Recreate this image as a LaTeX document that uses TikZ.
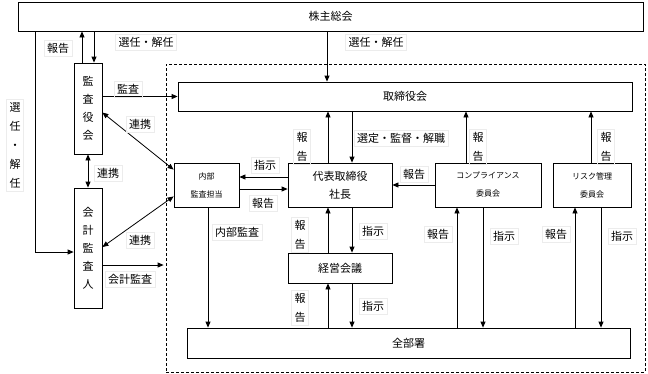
\documentclass[tikz,border=0pt]{standalone}
\usepackage{fontspec}
\setmainfont{Noto Sans CJK JP}
\usetikzlibrary{arrows.meta,calc}
\definecolor{framegray}{RGB}{236,236,236}
\tikzset{
  box/.style={draw=black, line width=0.8pt, inner sep=0pt, align=center,
              font=\fontsize{11}{18}\selectfont},
  sbox/.style={box, font=\fontsize{8}{18}\selectfont},
  lbl/.style={draw=framegray, line width=0.5pt, inner sep=3pt, align=center,
              font=\fontsize{11}{18}\selectfont},
  vlbl/.style={lbl, font=\fontsize{11}{19}\selectfont},
  flow/.style={-{Triangle[length=6pt,width=5pt]}, line width=0.8pt},
  both/.style={{Triangle[length=6pt,width=5pt]}-{Triangle[length=6pt,width=5pt]}, line width=0.8pt},
}

\begin{document}
\begin{tikzpicture}[x=1pt,y=-1pt]
  \useasboundingbox (0,0) rectangle (648,373);

  % boxes
  \node[box, minimum width=625pt, minimum height=29pt] (soukai) at (330.5,16.5) {株主総会};
  \node[box, minimum width=28pt, minimum height=91pt] (kansa) at (88,108.5) {監\\査\\役\\会};
  \node[box, minimum width=28pt, minimum height=120pt] (kaikei) at (88,248) {会\\計\\監\\査\\人};
  \node[draw, dashed, dash pattern=on 3pt off 2pt, line width=0.8pt, inner sep=0pt,
        minimum width=479pt, minimum height=308pt] (group) at (405.5,218) {};
  \node[box, minimum width=454pt, minimum height=29pt] (board) at (405,96.5) {取締役会};
  \node[sbox, minimum width=65pt, minimum height=44pt] (naibu) at (206.5,185) {内部\\監査担当};
  \node[box, minimum width=104pt, minimum height=44pt] (ceo) at (340,185) {代表取締役\\社長};
  \node[box, minimum width=104pt, minimum height=30pt] (keiei) at (340,268) {経営会議};
  \node[sbox, minimum width=106pt, minimum height=44pt] (comp) at (488,185) {コンプライアンス\\委員会};
  \node[sbox, minimum width=78pt, minimum height=44pt] (risk) at (592,185) {リスク管理\\委員会};
  \node[box, minimum width=443pt, minimum height=30pt] (all) at (408.5,343) {全部署};

  % vertical arrows, offset taken from the box named first
  \foreach \src/\dst/\dx in {kansa/soukai/-6, ceo/board/-12, keiei/ceo/-12,
                             comp/board/-22, risk/board/-1}{
    \coordinate (p) at ($(\src.north)+(\dx,0)$);
    \draw[flow] (p) -- (p |- \dst.south);
  }
  \foreach \dst/\src/\dx in {keiei/all/-12, comp/all/-31, risk/all/-17}{
    \coordinate (p) at ($(\dst.south)+(\dx,0)$);
    \draw[flow] (p |- \src.north) -- (p);
  }
  \foreach \src/\dst/\dx in {soukai/kansa/6, soukai/board/-78, board/ceo/12, ceo/keiei/12}{
    \coordinate (p) at ($(\dst.north)+(\dx,0)$);
    \draw[flow] (p |- \src.south) -- (p);
  }
  \foreach \src/\dst/\dx in {keiei/all/12, comp/all/-5, risk/all/9, naibu/all/1.5}{
    \coordinate (p) at ($(\src.south)+(\dx,0)$);
    \draw[flow] (p) -- (p |- \dst.north);
  }

  % horizontal arrows
  \draw[flow] ($(soukai.south west)+(18,0)$) |- ($(kaikei.west)+(0,4)$);
  \draw[flow] (kansa.east |- board.west) -- (board.west);
  \draw[flow] ($(ceo.west)+(0,-8)$) -- ($(naibu.east)+(0,-8)$);
  \draw[flow] ($(naibu.east)+(0,4)$) -- ($(ceo.west)+(0,4)$);
  \draw[flow] (comp.west) -- (ceo.east);
  \coordinate (q) at ($(kaikei.east)+(0,17)$);
  \draw[flow, shorten >=2pt] (q) -- (q -| group.west);

  % links
  \draw[both] (kansa.south) -- (kaikei.north);
  \draw[both] ($(kansa.east)+(0,4)$) -- ($(naibu.north west)+(0,7)$);
  \draw[both] ($(kaikei.east)+(0,-1)$) -- ($(naibu.south west)+(0,-11)$);

  % labels
  \node[lbl] (l1) at (58,48) {報告};
  \node[lbl] (l2) at (146,42) {選任・解任};
  \node[lbl] (l3) at (376,42) {選任・解任};
  \node[vlbl] (l4) at (15,145) {選\\任\\・\\解\\任};
  \node[lbl] (l5) at (128,89) {監査};
  \node[lbl] (l6) at (140,124) {連携};
  \node[lbl] (l7) at (108,173) {連携};
  \node[lbl] (l8) at (140,240) {連携};
  \node[lbl] (l9) at (130,279) {会計監査};
  \node[lbl] (l10) at (265,165) {指示};
  \node[lbl] (l11) at (263,203) {報告};
  \node[lbl] (l12) at (237,232) {内部監査};
  \node[vlbl] (l13) at (302,147) {報\\告};
  \node[lbl] (l14) at (401,138) {選定・監督・解職};
  \node[vlbl] (l15) at (300,235) {報\\告};
  \node[lbl] (l16) at (373,231) {指示};
  \node[vlbl] (l17) at (300,308) {報\\告};
  \node[lbl] (l18) at (373,306) {指示};
  \node[lbl] (l19) at (414,174) {報告};
  \node[vlbl] (l20) at (478,147) {報\\告};
  \node[vlbl] (l21) at (606,147) {報\\告};
  \node[lbl] (l22) at (438,234) {報告};
  \node[lbl] (l23) at (504,236) {指示};
  \node[lbl] (l24) at (556,234) {報告};
  \node[lbl] (l25) at (622,236) {指示};
\end{tikzpicture}
\end{document}
